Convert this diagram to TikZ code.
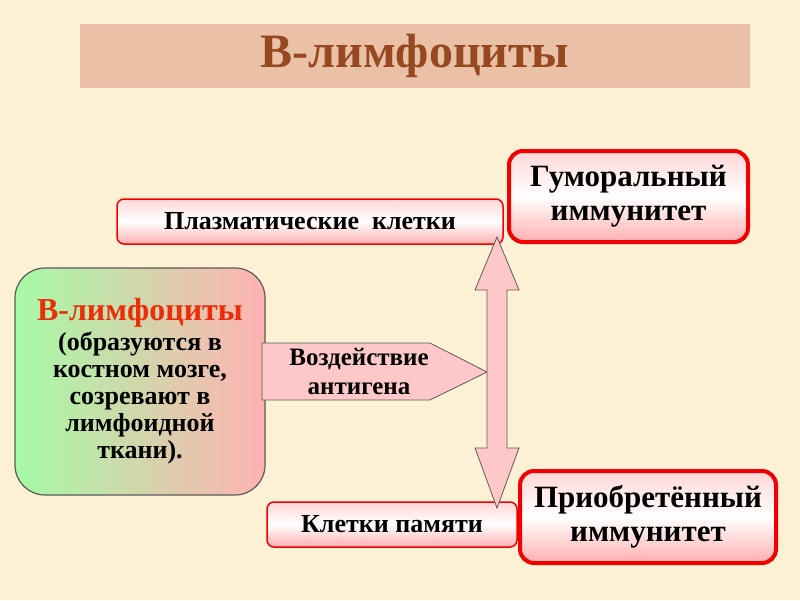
\documentclass[tikz,border=0pt]{standalone}
\usepackage{fontspec}
\setmainfont{Liberation Serif}
\definecolor{bgc}{RGB}{252,241,212}
\definecolor{titlebar}{RGB}{234,192,167}
\definecolor{titletext}{RGB}{150,72,32}
\definecolor{boxred}{RGB}{240,0,0}
\definecolor{pinktop}{RGB}{255,215,215}
\definecolor{pinkbot}{RGB}{255,175,175}
\definecolor{arrowpink}{RGB}{255,200,200}
\definecolor{arrowgray}{RGB}{90,90,90}
\definecolor{lgreen}{RGB}{165,250,165}
\definecolor{lpink}{RGB}{255,178,178}
\definecolor{bred}{RGB}{235,45,10}
\tikzset{
  smallbox/.style={draw=boxred, line width=1.5pt, rounded corners=7pt,
    top color=pinktop, bottom color=pinkbot, middle color=white,
    font=\fontsize{26}{28}\selectfont\bfseries, inner sep=0pt},
  bigbox/.style={draw=boxred, line width=4pt, rounded corners=14pt,
    top color=pinktop, bottom color=pinkbot, middle color=white,
    font=\fontsize{31}{34}\selectfont\bfseries, align=center, inner sep=0pt},
  shapearrow/.style={fill=arrowpink, draw=arrowgray, line width=0.8pt, line join=miter},
}
\begin{document}
\begin{tikzpicture}[x=1pt,y=-1pt]
\fill[bgc] (0,0) rectangle (800,600);
\useasboundingbox (0,0) rectangle (800,600);
% title
\node[fill=titlebar, minimum width=670pt, minimum height=64pt, inner sep=0pt,
  text=titletext, font=\fontsize{48}{52}\selectfont\bfseries] (title) at (415,56) {В-лимфоциты};
% B-lymphocytes box
\node[draw=arrowgray, line width=1.2pt, rounded corners=30pt, left color=lgreen, right color=lpink,
  minimum width=250pt, minimum height=227pt, inner sep=0pt, align=center,
  font=\fontsize{26}{27}\selectfont\bfseries] (blym) at (140,381.5)
  {{\color{bred}\fontsize{32}{33}\selectfont В-лимфоциты}\\[3pt](образуются в\\костном мозге,\\созревают в\\лимфоидной\\ткани).};
% small boxes
\node[smallbox, minimum width=386pt, minimum height=45pt] (plasma) at (310,221.5) {Плазматические\ \ клетки};
\node[smallbox, minimum width=250pt, minimum height=45pt] (memory) at (392,524.5) {Клетки памяти};
% antigen arrow
\draw[shapearrow] (262,343) -- (430,343) -- (487,372) -- (430,400) -- (262,400) -- cycle;
\node[align=center, font=\fontsize{25}{29}\selectfont\bfseries, inner sep=0pt] (antigen) at (359,372) {Воздействие\\антигена};
% double arrow
\draw[shapearrow] (497,237) -- (475,290) -- (487,290) -- (487,448) -- (475,448) -- (497,508)
  -- (519,448) -- (507,448) -- (507,290) -- (519,290) -- cycle;
% big boxes
\node[bigbox, minimum width=239pt, minimum height=91pt] (humoral) at (628.5,196.5) {Гуморальный\\иммунитет};
\node[bigbox, minimum width=256pt, minimum height=92pt] (acquired) at (648,517) {Приобретённый\\иммунитет};
\end{tikzpicture}
\end{document}
